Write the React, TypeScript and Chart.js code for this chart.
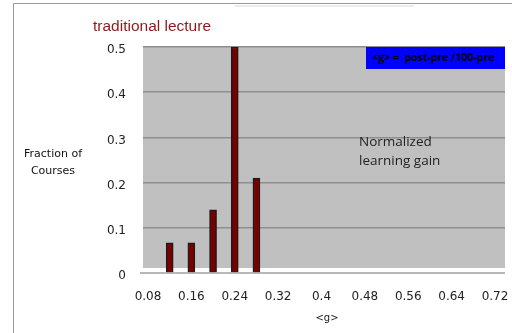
import React, { useEffect, useRef } from "react";
import { Chart, registerables } from "chart.js";

Chart.register(...registerables);

const binCenters = [0.12, 0.16, 0.2, 0.24, 0.28];
const fractions = [0.067, 0.067, 0.14, 0.5, 0.21];
const xTickValues = [0.08, 0.16, 0.24, 0.32, 0.4, 0.48, 0.56, 0.64, 0.72];
const xTickLabels = ["0.08", "0.16", "0.24", "0.32", "0.4", "0.48", "0.56", "0.64", "0.72"];
const yTickValues = [0, 0.1, 0.2, 0.3, 0.4, 0.5];
const yTickLabels = ["0", "0.1", "0.2", "0.3", "0.4", "0.5"];
const titleText = "traditional lecture";
const yTitleLines = ["Fraction of", "Courses"];
const noteLines = ["Normalized", "learning gain"];
const formulaText = "<g> =  post-pre /100-pre";
const xTitle = "<g>";

const decor = {
  id: "decor",
  beforeDraw(chart: any) {
    const { ctx, chartArea } = chart;
    const y = chart.scales.y;
    ctx.save();
    ctx.fillStyle = "#ffffff";
    ctx.fillRect(0, 0, chart.width, chart.height);
    // frame
    ctx.strokeStyle = "#9a9a9a";
    ctx.lineWidth = 1;
    ctx.beginPath();
    ctx.moveTo(13.5, 333);
    ctx.lineTo(13.5, 3.5);
    ctx.lineTo(512, 3.5);
    ctx.stroke();
    ctx.strokeStyle = "#ececec";
    ctx.lineWidth = 2;
    ctx.beginPath();
    ctx.moveTo(235, 6);
    ctx.lineTo(414, 6);
    ctx.stroke();
    // plot background
    const zeroY = y.getPixelForValue(0);
    ctx.fillStyle = "#c0c0c0";
    ctx.fillRect(chartArea.left, chartArea.top, chartArea.right - chartArea.left, zeroY - 5 - chartArea.top);
    // baseline
    ctx.strokeStyle = "#a0a0a0";
    ctx.lineWidth = 1.5;
    ctx.beginPath();
    ctx.moveTo(chartArea.left - 3, zeroY);
    ctx.lineTo(chartArea.right, zeroY);
    ctx.stroke();
    ctx.restore();
  },
  afterDraw(chart: any) {
    const { ctx, chartArea } = chart;
    ctx.save();
    // title
    ctx.fillStyle = "#8b1a1a";
    ctx.font = "15.5px 'Liberation Sans', Arial, sans-serif";
    ctx.textAlign = "center";
    ctx.textBaseline = "middle";
    ctx.fillText(titleText, 152, 27);
    // y title
    ctx.fillStyle = "#111";
    ctx.font = "11px 'DejaVu Sans', sans-serif";
    ctx.fillText(yTitleLines[0], 53, 154);
    ctx.fillText(yTitleLines[1], 53, 171);
    // note
    ctx.textAlign = "left";
    ctx.fillStyle = "#222";
    ctx.font = "13.5px 'Open Sans', sans-serif";
    ctx.fillText(noteLines[0], 359, 142);
    ctx.fillText(noteLines[1], 359, 161);
    // formula box
    ctx.fillStyle = "#0000ff";
    ctx.fillRect(366, chartArea.top, chartArea.right - 366, 22);
    ctx.fillStyle = "#000";
    ctx.font = "bold 10.5px 'Open Sans', sans-serif";
    ctx.fillText(formulaText, 372, chartArea.top + 11);
    // x title
    ctx.textAlign = "center";
    ctx.font = "10px 'DejaVu Sans', sans-serif";
    ctx.fillStyle = "#222";
    ctx.fillText(xTitle, 327, 318);
    ctx.restore();
  },
};

export default function App() {
  const ref = useRef<HTMLCanvasElement | null>(null);
  useEffect(() => {
    if (!ref.current) return;
    const chart = new Chart(ref.current, {
      type: "bar",
      data: {
        datasets: [
          {
            data: binCenters.map((x, i) => ({ x, y: fractions[i] })),
            backgroundColor: "#7a0000",
            borderColor: "#1a1a1a",
            borderWidth: 1.5,
            barThickness: 7,
          } as any,
        ],
      },
      options: {
        animation: false,
        responsive: false,
        maintainAspectRatio: false,
        layout: { padding: { top: 47, right: 7, left: 0, bottom: 0 } },
        plugins: { legend: { display: false }, tooltip: { enabled: false }, title: { display: false } },
        scales: {
          x: {
            type: "linear",
            offset: false,
            min: 0.0708,
            max: 0.7384,
            grid: { display: false, offset: false },
            border: { display: false },
            afterBuildTicks: (scale: any) => {
              scale.ticks = xTickValues.map((v) => ({ value: v }));
            },
            afterFit: (scale: any) => {
              scale.height = 60;
              scale.paddingLeft = 0;
              scale.paddingRight = 0;
            },
            ticks: {
              autoSkip: false,
              maxRotation: 0,
              padding: 9,
              color: "#222",
              font: { family: "'DejaVu Sans', sans-serif", size: 12 },
              callback: (_v: any, i: number) => xTickLabels[i],
            },
          },
          y: {
            type: "linear",
            min: 0,
            max: 0.5,
            afterBuildTicks: (scale: any) => {
              scale.ticks = yTickValues.map((v) => ({ value: v }));
            },
            afterFit: (scale: any) => {
              scale.width = 143;
              scale.paddingTop = 0;
              scale.paddingBottom = 0;
            },
            border: { display: false },
            grid: {
              drawTicks: false,
              color: (c: any) => (c.tick && c.tick.value === 0 ? "rgba(0,0,0,0)" : "#8e8e8e"),
              lineWidth: 1.5,
            },
            ticks: {
              padding: 17,
              labelOffset: 3,
              color: "#222",
              font: { family: "'DejaVu Sans', sans-serif", size: 12 },
              callback: (_v: any, i: number) => yTickLabels[i],
            },
          },
        },
      },
      plugins: [decor],
    });
    return () => chart.destroy();
  }, []);
  return (
    <div style={{ position: "absolute", left: 0, top: 0, width: 512, height: 333 }}>
      <canvas ref={ref} width={512} height={333} style={{ width: 512, height: 333 }} />
    </div>
  );
}
